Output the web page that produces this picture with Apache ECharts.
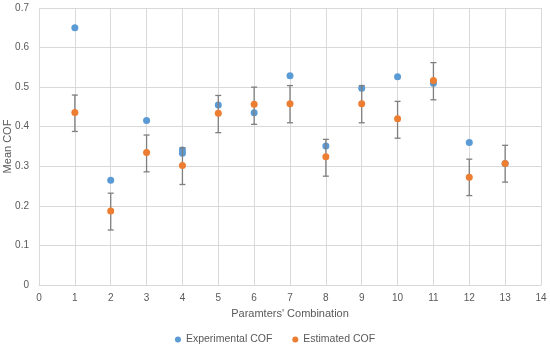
<!DOCTYPE html>
<html><head><meta charset="utf-8">
<script src="https://cdn.jsdelivr.net/npm/echarts@6/dist/echarts.min.js"></script>
<style>html,body{margin:0;padding:0;background:#fff}#c{width:550px;height:350px}</style>
</head><body><div id="c"></div>
<script>
// Data
const combos = [1,2,3,4,5,6,7,8,9,10,11,12,13];
const experimental = [[1,0.650],[2,0.265],[3,0.416],[4,0.341],[4,0.333],[5,0.455],[6,0.435],[7,0.529],[8,0.351],[9,0.497],[10,0.526],[11,0.510],[12,0.360],[13,0.307]];
const estimated = [0.436,0.187,0.335,0.302,0.434,0.457,0.458,0.324,0.458,0.420,0.517,0.272,0.307];
const errLow  = [0.388,0.139,0.286,0.254,0.385,0.406,0.410,0.275,0.410,0.371,0.468,0.226,0.260];
const errHigh = [0.480,0.232,0.379,0.347,0.479,0.500,0.504,0.368,0.504,0.464,0.562,0.318,0.353];

const font = 'Liberation Sans';
const chart = echarts.init(document.getElementById('c'), null, {renderer:'canvas'});
chart.setOption({
  animation:false,
  grid:{left:39,right:9,top:8,bottom:65,containLabel:false,outerBoundsMode:'none'},
  xAxis:{type:'value',min:0,max:14,interval:1,
    name:"Paramters' Combination",nameLocation:'middle',nameGap:23,nameMoveOverlap:false,
    nameTextStyle:{color:'#595959',fontSize:11,fontFamily:font},
    axisLine:{show:true,lineStyle:{color:'#d9d9d9'}},axisTick:{show:false},
    axisLabel:{color:'#595959',fontSize:10,fontFamily:font,margin:8},
    splitLine:{show:true,lineStyle:{color:'#d9d9d9'}}},
  yAxis:{type:'value',min:0,max:0.7,interval:0.1,
    name:'Mean COF',nameLocation:'middle',nameGap:26,nameRotate:90,nameMoveOverlap:false,
    nameTextStyle:{color:'#595959',fontSize:11,fontFamily:font},
    axisLine:{show:false},axisTick:{show:false},
    axisLabel:{color:'#595959',fontSize:10,fontFamily:font,margin:10,
      formatter:v=>String(Math.round(v*10)/10)},
    splitLine:{show:true,lineStyle:{color:'#d9d9d9'}}},
  legend:{top:329,left:'center',itemWidth:6,itemHeight:6,itemGap:20,icon:'circle',
    textStyle:{color:'#595959',fontSize:10.5,fontFamily:font},
    data:['Experimental COF','Estimated COF']},
  series:[
    {name:'Experimental COF',type:'scatter',symbolSize:7,itemStyle:{color:'#5B9BD5',opacity:1},data:experimental,z:3},
    {name:'Error',type:'custom',z:4,
      data:combos.map((c,i)=>[c,errLow[i],errHigh[i]]),
      renderItem:function(params,api){
        const lo=api.coord([api.value(0),api.value(1)]);
        const hi=api.coord([api.value(0),api.value(2)]);
        const w=3;
        const st={stroke:'#7f7f7f',lineWidth:1.3};
        return {type:'group',children:[
          {type:'line',shape:{x1:hi[0],y1:hi[1],x2:lo[0],y2:lo[1]},style:st},
          {type:'line',shape:{x1:hi[0]-w,y1:hi[1],x2:hi[0]+w,y2:hi[1]},style:st},
          {type:'line',shape:{x1:lo[0]-w,y1:lo[1],x2:lo[0]+w,y2:lo[1]},style:st}
        ]};
      }},
    {name:'Estimated COF',type:'scatter',symbolSize:7,itemStyle:{color:'#ED7D31',opacity:1},z:5,
      data:combos.map((c,i)=>[c,estimated[i]])}
  ]
});
</script></body></html>
